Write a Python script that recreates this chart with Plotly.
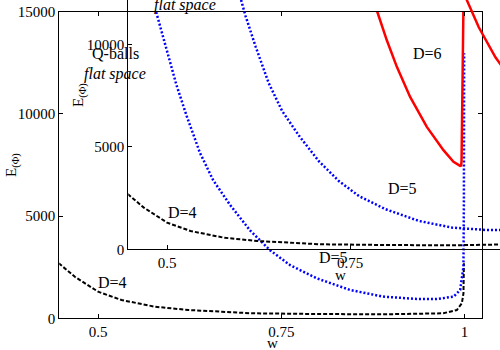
import plotly.graph_objects as go

# D=4 (black dashed)
w4 = [0.440, 0.4682, 0.5, 0.532, 0.5775, 0.623, 0.6686, 0.7096, 0.798, 0.889, 0.971, 0.9896, 0.9964, 0.9986, 0.9992]
e4 = [2880, 2033, 1300, 894, 567, 406, 323, 244, 210, 195, 244, 406, 733, 1222, 2688]

# D=5 (blue dotted)
w5 = [0.569, 0.579, 0.5934, 0.607, 0.6208, 0.6389, 0.6571, 0.680, 0.7073, 0.7346, 0.762, 0.7984,
      0.8441, 0.889, 0.935, 0.9623, 0.985, 0.9941, 0.9986, 0.9992, 0.9995]
e5 = [16300, 15000, 13100, 11400, 9900, 8100, 6750, 5550, 4300, 3330, 2600, 1955,
      1383, 1060, 945, 945, 1056, 1383, 2522, 5782, 12970]

# D=6 (red solid)
w6 = [0.870, 0.8811, 0.894, 0.9077, 0.9258, 0.9486, 0.9713, 0.985, 0.9941, 0.9955, 0.9960, 0.9973, 0.9986, 0.9990]
e6 = [16300, 14985, 13600, 12300, 10830, 9365, 8226, 7654, 7458, 7470, 7700, 10670, 14985, 16500]

xticks = [0.5, 0.75, 1]
xticktext = ["0.5", "0.75", "1"]
yticks = [0, 5000, 10000, 15000]
yticktext = ["0", "5000", "10000", "15000"]

FONT = "Liberation Serif, Times New Roman, Times, serif"
series = [
    (w4, e4, dict(color="black", width=2, dash="4px,2px")),
    (w5, e5, dict(color="#0000ff", width=2.5, dash="2px,2px")),
    (w6, e6, dict(color="#ff0000", width=2.5)),
]

fig = go.Figure()
for xa, ya in [("x", "y"), ("x2", "y2")]:
    for w, e, ln in series:
        fig.add_trace(go.Scatter(x=w, y=e, mode="lines", line=ln, xaxis=xa, yaxis=ya,
                                 showlegend=False, hoverinfo="skip"))

ax = dict(showgrid=False, zeroline=False, showline=True, linecolor="black", linewidth=1,
          ticks="inside", ticklen=4, tickcolor="black", tickfont=dict(family=FONT, size=15, color="black"),
          automargin=False)

fig.update_layout(
    width=500, height=350,
    margin=dict(l=0, r=0, t=0, b=0),
    paper_bgcolor="white", plot_bgcolor="rgba(0,0,0,0)",
    font=dict(family=FONT, color="black"),
    xaxis=dict(ax, domain=[0.1186, 0.9634], range=[0.447, 1.0235], tickvals=xticks,
               ticktext=xticktext, mirror="ticks", anchor="y"),
    yaxis=dict(ax, domain=[0.0906, 0.9666], range=[0, 15000], tickvals=yticks,
               ticktext=yticktext, mirror="ticks", anchor="x"),
    xaxis2=dict(ax, domain=[0.2566, 1], range=[0.447, 0.9548], tickvals=xticks,
                ticktext=xticktext, anchor="y2"),
    yaxis2=dict(ax, domain=[0.2877, 1], range=[0, 12160], tickvals=yticks,
                ticktext=yticktext, anchor="x2"),
)

def px(x, y):
    return x / 500, 1 - y / 350

labels = [
    ("Q-balls", 115.5, 54, False),
    ("flat space", 115, 74, True),
    ("flat space", 185, 5, True),
    ("D=6", 427.7, 53.3, False),
    ("D=5", 333, 257, False),
    ("D=5", 402, 188, False),
    ("D=4", 112.5, 282.5, False),
    ("D=4", 182.3, 212.5, False),
]
for t, x, y, it in labels:
    xx, yy = px(x, y)
    fig.add_annotation(text=f"<i>{t}</i>" if it else t, x=xx, y=yy, xref="paper", yref="paper",
                       xanchor="center", yanchor="middle", showarrow=False,
                       font=dict(family=FONT, size=16, color="black"))

for x, y in [(272, 343), (340, 275)]:
    xx, yy = px(x, y)
    fig.add_annotation(text="w", x=xx, y=yy, xref="paper", yref="paper", showarrow=False,
                       xanchor="center", yanchor="middle", font=dict(family=FONT, size=15, color="black"))
for x, y in [(12, 165), (80, 95)]:
    xx, yy = px(x, y)
    fig.add_annotation(text="E<sub>(Φ)</sub>", x=xx, y=yy, xref="paper", yref="paper", showarrow=False,
                       xanchor="center", yanchor="middle", textangle=-90,
                       font=dict(family=FONT, size=15, color="black"))

fig.write_html("out.html", config={"displayModeBar": False},
               post_script="document.body.style.margin='0';")
